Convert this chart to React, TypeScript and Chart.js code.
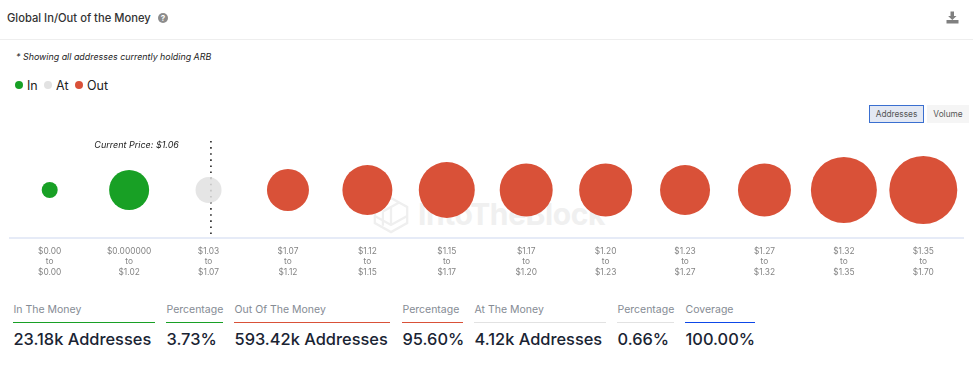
import React, { useEffect, useRef } from "react";
import { Chart, registerables } from "chart.js";

Chart.register(...registerables);

const rangeStarts = ["$0.00", "$0.000000", "$1.03", "$1.07", "$1.12", "$1.15", "$1.17", "$1.20", "$1.23", "$1.27", "$1.32", "$1.35"];
const rangeEnds = ["$0.00", "$1.02", "$1.07", "$1.12", "$1.15", "$1.17", "$1.20", "$1.23", "$1.27", "$1.32", "$1.35", "$1.70"];
const inSizes = [8, 20];
const atSizes = [13];
const outSizes = [21, 25, 28, 26.5, 26.5, 25, 26.5, 33, 34];
const currentPriceLabel = "Current Price: $1.06";
const currentPricePosition = 2.03;

const legendItems = [
  { label: "In", color: "#18a025" },
  { label: "At", color: "#e2e2e2" },
  { label: "Out", color: "#d95138" },
];

const statItems = [
  { label: "In The Money", value: "23.18k Addresses", left: 13, width: 142, color: "#18a025" },
  { label: "Percentage", value: "3.73%", left: 166, width: 57, color: "#18a025" },
  { label: "Out Of The Money", value: "593.42k Addresses", left: 234, width: 156, color: "#d95138" },
  { label: "Percentage", value: "95.60%", left: 402, width: 61, color: "#d95138" },
  { label: "At The Money", value: "4.12k Addresses", left: 474, width: 132, color: "#e2e2e2" },
  { label: "Percentage", value: "0.66%", left: 617, width: 57, color: "#e2e2e2" },
  { label: "Coverage", value: "100.00%", left: 685, width: 70, color: "#0d47e8" },
];

const FONT = "Inter, 'Noto Sans', sans-serif";
const MID = 48;

const text = (left: number, top: number, extra: React.CSSProperties): React.CSSProperties => ({
  position: "absolute",
  left,
  top,
  whiteSpace: "nowrap",
  fontFamily: FONT,
  ...extra,
});

export default function App() {
  const ref = useRef<HTMLCanvasElement>(null);

  useEffect(() => {
    const priceLabel = {
      id: "priceLabel",
      afterDatasetsDraw(chart: any) {
        const { ctx, scales } = chart;
        ctx.save();
        ctx.font = `italic 9px ${FONT}`;
        ctx.fillStyle = "#222";
        ctx.textAlign = "right";
        ctx.textBaseline = "middle";
        ctx.fillText(currentPriceLabel, scales.x.getPixelForValue(currentPricePosition) - 32, 145.5);
        ctx.restore();
      },
    };
    const toPoints = (sizes: number[], start: number) =>
      sizes.map((r, i) => ({ x: start + i, y: MID, r }));
    const chart = new Chart(ref.current!, {
      type: "bubble",
      data: {
        datasets: [
          { label: "In", data: toPoints(inSizes, 0), backgroundColor: "#18a025", borderWidth: 0, order: 1 },
          { label: "At", data: toPoints(atSizes, inSizes.length), backgroundColor: "rgba(224,224,224,0.85)", borderWidth: 0, order: 1 },
          { label: "Out", data: toPoints(outSizes, inSizes.length + atSizes.length), backgroundColor: "#d95138", borderWidth: 0, order: 1 },
          {
            type: "line",
            label: "Current Price",
            data: [{ x: currentPricePosition, y: 97 }, { x: currentPricePosition, y: 0 }],
            borderColor: "#222",
            borderWidth: 1.6,
            borderDash: [1.6, 4.5],
            pointRadius: 0,
            order: 2,
          } as any,
        ],
      },
      options: {
        animation: false,
        responsive: false,
        events: [],
        layout: { padding: { left: 34, right: 34, top: 141, bottom: 0 } },
        plugins: { legend: { display: false }, tooltip: { enabled: false } },
        scales: {
          x: {
            type: "linear",
            min: -0.5,
            max: 11.5,
            afterBuildTicks: (s: any) => {
              s.ticks = rangeStarts.map((_, i) => ({ value: i }));
            },
            afterFit: (s: any) => {
              s.height = 44;
              s.paddingLeft = 0;
              s.paddingRight = 0;
            },
            grid: { display: false },
            border: { display: true, color: "#e6ebf7", width: 2 },
            ticks: {
              autoSkip: false,
              maxRotation: 0,
              padding: 0,
              color: "#858585",
              font: { family: FONT, size: 8.4, lineHeight: 1.25 },
              callback: (v: any) => [rangeStarts[v], "to", rangeEnds[v]],
            },
          },
          y: { display: false, min: 0, max: 97 },
        },
      },
      plugins: [priceLabel],
    });
    return () => chart.destroy();
  }, []);

  return (
    <div style={{ position: "absolute", left: 0, top: 0, width: 973, height: 367, background: "#fff", overflow: "hidden" }}>
      <div style={text(7, 11, { fontSize: 11.2, fontWeight: 500, color: "#333", lineHeight: "14px" })}>Global In/Out of the Money</div>
      <div style={text(158, 13, { width: 10, height: 10, borderRadius: 5, background: "#8c8c8c", color: "#fff", fontSize: 8, fontWeight: 700, lineHeight: "10px", textAlign: "center" })}>?</div>
      <svg style={{ position: "absolute", left: 946, top: 11 }} width="13" height="13" viewBox="0 0 13 13">
        <path d="M4.5 0.5h3.5v4.5h2.5l-4.2 4-4.2-4h2.4z" fill="#808080" />
        <rect x="0.5" y="9" width="12" height="3.5" fill="#808080" />
      </svg>
      <div style={{ position: "absolute", left: 0, top: 39, width: 973, height: 1, background: "#eeeeee" }} />
      <div style={text(16, 51, { fontSize: 8.9, fontStyle: "italic", color: "#222", lineHeight: "12px" })}>* Showing all addresses currently holding ARB</div>

      {legendItems.map((item, i) => {
        const dotLeft = [15, 44, 75][i];
        return (
          <React.Fragment key={item.label}>
            <div style={{ position: "absolute", left: dotLeft, top: 81, width: 8, height: 8, borderRadius: 4, background: item.color }} />
            <div style={text(dotLeft + 12, 78, { fontSize: 12.5, color: "#222", lineHeight: "16px" })}>{item.label}</div>
          </React.Fragment>
        );
      })}

      <div style={text(869, 105, { width: 55, height: 18, boxSizing: "border-box", border: "1px solid #3a6fd0", background: "#e3e8f3", color: "#555", fontSize: 8.3, lineHeight: "16px", textAlign: "center" })}>Addresses</div>
      <div style={text(927, 105, { width: 42, height: 18, background: "#f5f5f5", color: "#555", fontSize: 8.3, lineHeight: "18px", textAlign: "center" })}>Volume</div>

      <svg style={{ position: "absolute", left: 373, top: 194 }} width="36" height="42" viewBox="0 0 40 42" fill="none" stroke="#efefef" strokeWidth="2.5">
        <path d="M20 2 L38 12 V30 L20 40 L2 30 V12 Z" />
        <path d="M2 22 L20 32 L38 22 M20 12 V32 M11 17 L29 7 M11 17 V33" />
      </svg>
      <div style={text(418, 194, { fontSize: 30, fontWeight: 700, color: "#f0f0f0", lineHeight: "40px", letterSpacing: -0.4 })}>IntoTheBlock</div>

      <canvas ref={ref} width={1021} height={282} style={{ position: "absolute", left: -24, top: 0, width: 1021, height: 282 }} />

      {statItems.map((s, i) => (
        <React.Fragment key={i}>
          <div style={text(s.left + 0.5, 303, { fontSize: 10.5, color: "#858b94", lineHeight: "14px" })}>{s.label}</div>
          <div style={{ position: "absolute", left: s.left, top: 322, width: s.width, height: 1, background: s.color }} />
          <div style={text(s.left + 0.5, 329, { fontSize: 16.4, fontWeight: 500, color: "#1a2433", lineHeight: "21px" })}>{s.value}</div>
        </React.Fragment>
      ))}
    </div>
  );
}
